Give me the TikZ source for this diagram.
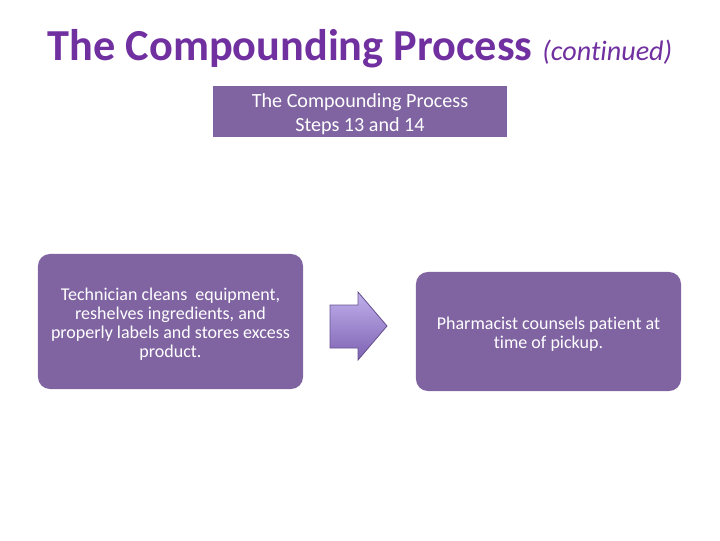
\documentclass[tikz,border=0pt]{standalone}
\usepackage{fontspec}
\setmainfont[Ligatures=NoCommon]{Carlito}
\usepackage{tikz}
\usetikzlibrary{positioning}
\definecolor{titlepurple}{RGB}{112,48,160}
\definecolor{boxpurple}{RGB}{128,100,162}
\definecolor{arrowtop}{RGB}{192,176,236}
\definecolor{arrowbot}{RGB}{126,98,178}
\definecolor{arrowline}{RGB}{104,82,146}
\newcommand{\topstrut}[1]{\rule{0pt}{#1}}

\tikzset{
  headbox/.style={fill=boxpurple,text=white,align=center,font=\fontsize{14.3}{17}\selectfont,minimum width=7.35cm,minimum height=1.275cm,inner sep=0pt},
  stepbox/.style={fill=boxpurple,text=white,align=center,rounded corners=0.3cm,font=\fontsize{12.8}{13.5}\selectfont,inner sep=0pt}
}

\begin{document}
\begin{tikzpicture}[x=0.025cm,y=-0.025cm]
\useasboundingbox (0,0) rectangle (720,540);
\node[titlepurple,font=\fontsize{31.5}{36}\selectfont\bfseries] (title) at (360,49) {The Compounding Process {\fontsize{20}{22}\selectfont\mdseries\itshape(continued)}};
\node[headbox] (head) at (360,111.5) {\topstrut{14pt}The Compounding Process\\Steps 13 and 14};
\node[stepbox,minimum width=6.625cm,minimum height=3.375cm] (clean) at (170.5,321.5) {\topstrut{13pt}Technician cleans~ equipment,\\reshelves ingredients, and\\properly labels and stores excess\\product.};
\node[stepbox,minimum width=6.625cm,minimum height=2.975cm] (counsel) at (548.5,331.5) {\topstrut{13pt}Pharmacist counsels patient at\\time of pickup.};
% block arrow between the steps
\shade[top color=arrowtop,bottom color=arrowbot,draw=arrowline,line width=0.6pt]
  (330,305) -- (358,305) -- (358,292) -- (387,326) -- (358,360) -- (358,348) -- (330,348) -- cycle;
\end{tikzpicture}
\end{document}
